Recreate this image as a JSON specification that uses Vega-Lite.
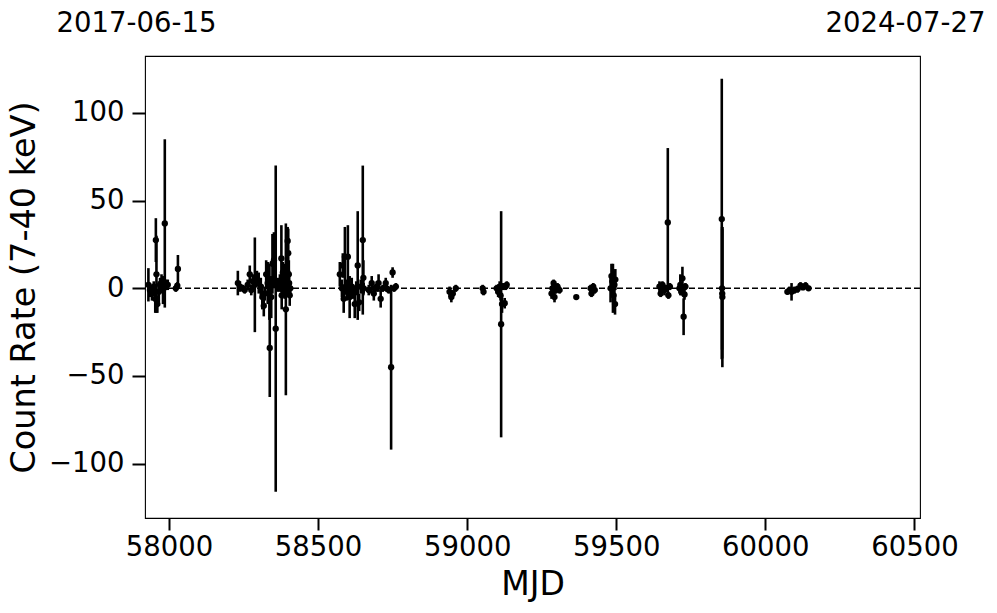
{
  "$schema": "https://vega.github.io/schema/vega-lite/v6.json",
  "autosize": "none",
  "width": 775,
  "height": 462,
  "padding": {"left": 145, "top": 56, "right": 77, "bottom": 95},
  "background": "white",
  "config": {
    "font": "DejaVu Sans",
    "view": {"stroke": "black", "strokeWidth": 1.1},
    "axis": {"labelColor": "black", "titleColor": "black", "tickColor": "black", "domainColor": "black", "grid": false, "labelFont": "DejaVu Sans", "titleFont": "DejaVu Sans", "titleFontWeight": "normal"}
  },
  "datasets": {
    "obs": [
      {"mjd": 57931, "rate": 2, "err": 9.5},
      {"mjd": 57936, "rate": -1, "err": 4},
      {"mjd": 57943, "rate": -3, "err": 4},
      {"mjd": 57949, "rate": 1, "err": 3},
      {"mjd": 57954, "rate": -6, "err": 8},
      {"mjd": 57956, "rate": 27.5, "err": 12.5},
      {"mjd": 57958, "rate": 8, "err": 22},
      {"mjd": 57961, "rate": -9, "err": 5},
      {"mjd": 57966, "rate": -2, "err": 6},
      {"mjd": 57970, "rate": 2, "err": 4},
      {"mjd": 57975, "rate": 3, "err": 5},
      {"mjd": 57980, "rate": -1, "err": 8},
      {"mjd": 57986, "rate": 37, "err": 48},
      {"mjd": 57990, "rate": 2, "err": 3},
      {"mjd": 57996, "rate": 2, "err": 3},
      {"mjd": 58023, "rate": 0, "err": 2},
      {"mjd": 58028, "rate": 1.5, "err": 2},
      {"mjd": 58030, "rate": 11, "err": 8},
      {"mjd": 58231, "rate": 3, "err": 7},
      {"mjd": 58238, "rate": 1, "err": 3},
      {"mjd": 58248, "rate": 0, "err": 2},
      {"mjd": 58254, "rate": -1, "err": 2},
      {"mjd": 58264, "rate": 2, "err": 3},
      {"mjd": 58271, "rate": 8, "err": 5},
      {"mjd": 58276, "rate": -1, "err": 3},
      {"mjd": 58281, "rate": 4, "err": 4},
      {"mjd": 58288, "rate": 2, "err": 27},
      {"mjd": 58295, "rate": 6, "err": 4},
      {"mjd": 58301, "rate": 3, "err": 6},
      {"mjd": 58308, "rate": 1, "err": 5},
      {"mjd": 58313, "rate": -5, "err": 7},
      {"mjd": 58318, "rate": -10, "err": 6},
      {"mjd": 58321, "rate": -3, "err": 4},
      {"mjd": 58326, "rate": 8, "err": 8},
      {"mjd": 58331, "rate": 3, "err": 12},
      {"mjd": 58337, "rate": -2, "err": 16},
      {"mjd": 58338, "rate": -34, "err": 28},
      {"mjd": 58343, "rate": -5, "err": 12},
      {"mjd": 58347, "rate": 14, "err": 17},
      {"mjd": 58352, "rate": 16, "err": 16},
      {"mjd": 58358, "rate": -23, "err": 93},
      {"mjd": 58365, "rate": 2, "err": 4},
      {"mjd": 58372, "rate": 3, "err": 5},
      {"mjd": 58377, "rate": 17, "err": 19},
      {"mjd": 58378, "rate": -4, "err": 8},
      {"mjd": 58382, "rate": 9, "err": 6},
      {"mjd": 58385, "rate": 2, "err": 6},
      {"mjd": 58388, "rate": 4, "err": 10},
      {"mjd": 58392, "rate": -12, "err": 49},
      {"mjd": 58395, "rate": 1, "err": 6},
      {"mjd": 58398, "rate": 27, "err": 8},
      {"mjd": 58400, "rate": 20, "err": 14},
      {"mjd": 58402, "rate": 8, "err": 8},
      {"mjd": 58403, "rate": 3, "err": 7},
      {"mjd": 58405, "rate": -4, "err": 6},
      {"mjd": 58407, "rate": 0, "err": 4},
      {"mjd": 58573, "rate": 8, "err": 7},
      {"mjd": 58580, "rate": 0, "err": 5},
      {"mjd": 58583, "rate": 13, "err": 7},
      {"mjd": 58586, "rate": -6, "err": 8},
      {"mjd": 58590, "rate": 18, "err": 17},
      {"mjd": 58593, "rate": 1, "err": 4},
      {"mjd": 58596, "rate": -2, "err": 5},
      {"mjd": 58600, "rate": 18, "err": 18},
      {"mjd": 58603, "rate": 0, "err": 4},
      {"mjd": 58606, "rate": -5, "err": 12},
      {"mjd": 58613, "rate": 1, "err": 5},
      {"mjd": 58618, "rate": -2, "err": 4},
      {"mjd": 58623, "rate": -9, "err": 8},
      {"mjd": 58628, "rate": 0, "err": 4},
      {"mjd": 58633, "rate": 13, "err": 31},
      {"mjd": 58638, "rate": -8, "err": 5},
      {"mjd": 58643, "rate": 1, "err": 4},
      {"mjd": 58650, "rate": 27.5, "err": 42.5},
      {"mjd": 58652, "rate": 6, "err": 10},
      {"mjd": 58653, "rate": 0, "err": 3},
      {"mjd": 58670, "rate": -1, "err": 3},
      {"mjd": 58673, "rate": -1, "err": 2},
      {"mjd": 58680, "rate": 3, "err": 4},
      {"mjd": 58687, "rate": -3, "err": 4},
      {"mjd": 58690, "rate": 0, "err": 2},
      {"mjd": 58697, "rate": 1, "err": 3},
      {"mjd": 58703, "rate": 3, "err": 5},
      {"mjd": 58710, "rate": -6, "err": 5},
      {"mjd": 58717, "rate": 0, "err": 2},
      {"mjd": 58727, "rate": 3, "err": 3},
      {"mjd": 58730, "rate": 0, "err": 2},
      {"mjd": 58737, "rate": -1, "err": 2},
      {"mjd": 58745, "rate": -45, "err": 47},
      {"mjd": 58750, "rate": 9, "err": 3},
      {"mjd": 58755, "rate": 0, "err": 2},
      {"mjd": 58761, "rate": 1, "err": 2},
      {"mjd": 58941, "rate": -2, "err": 3},
      {"mjd": 58947, "rate": -5, "err": 3},
      {"mjd": 58952, "rate": -3, "err": 2},
      {"mjd": 58962, "rate": 0, "err": 2},
      {"mjd": 59052, "rate": 0, "err": 2},
      {"mjd": 59055, "rate": -2, "err": 2},
      {"mjd": 59099, "rate": 0, "err": 2},
      {"mjd": 59104, "rate": -2, "err": 3},
      {"mjd": 59109, "rate": 1, "err": 3},
      {"mjd": 59112, "rate": -4, "err": 3},
      {"mjd": 59114, "rate": -20.5, "err": 64.5},
      {"mjd": 59117, "rate": -9, "err": 5},
      {"mjd": 59121, "rate": 1, "err": 2},
      {"mjd": 59126, "rate": -8.5, "err": 3},
      {"mjd": 59129, "rate": 1, "err": 2},
      {"mjd": 59133, "rate": 2, "err": 2},
      {"mjd": 59283, "rate": -3, "err": 3},
      {"mjd": 59286, "rate": 0, "err": 2},
      {"mjd": 59290, "rate": 3, "err": 2},
      {"mjd": 59293, "rate": -5, "err": 3},
      {"mjd": 59298, "rate": -1, "err": 2},
      {"mjd": 59303, "rate": 1, "err": 2},
      {"mjd": 59310, "rate": -1, "err": 2},
      {"mjd": 59366, "rate": -5, "err": 1},
      {"mjd": 59414, "rate": 0, "err": 2},
      {"mjd": 59417, "rate": -3, "err": 2},
      {"mjd": 59423, "rate": 1, "err": 2},
      {"mjd": 59428, "rate": -1, "err": 2},
      {"mjd": 59481, "rate": 0, "err": 8},
      {"mjd": 59484, "rate": 7, "err": 7},
      {"mjd": 59487, "rate": 4, "err": 9},
      {"mjd": 59489, "rate": 0, "err": 14},
      {"mjd": 59491, "rate": -4, "err": 5},
      {"mjd": 59494, "rate": 2, "err": 8},
      {"mjd": 59496, "rate": -9, "err": 6},
      {"mjd": 59497, "rate": 5, "err": 6},
      {"mjd": 59645, "rate": 1, "err": 3},
      {"mjd": 59649, "rate": -3, "err": 2},
      {"mjd": 59652, "rate": 0, "err": 2},
      {"mjd": 59655, "rate": 2, "err": 2},
      {"mjd": 59662, "rate": -1, "err": 3},
      {"mjd": 59667, "rate": 0, "err": 2},
      {"mjd": 59673, "rate": 37.6, "err": 42.4},
      {"mjd": 59675, "rate": -4, "err": 2},
      {"mjd": 59680, "rate": 1, "err": 2},
      {"mjd": 59712, "rate": 0, "err": 3},
      {"mjd": 59715, "rate": 2, "err": 6},
      {"mjd": 59719, "rate": -1, "err": 3},
      {"mjd": 59722, "rate": 5.7, "err": 6.6},
      {"mjd": 59726, "rate": -16.2, "err": 10.5},
      {"mjd": 59729, "rate": -3.5, "err": 3},
      {"mjd": 59732, "rate": 1, "err": 2},
      {"mjd": 59854, "rate": 39.5, "err": 80},
      {"mjd": 59855, "rate": 0, "err": 35},
      {"mjd": 59855.5, "rate": -3, "err": 37},
      {"mjd": 59856, "rate": -5, "err": 40},
      {"mjd": 60074, "rate": -2, "err": 1.5},
      {"mjd": 60081, "rate": -1, "err": 2},
      {"mjd": 60088, "rate": -2, "err": 5},
      {"mjd": 60098, "rate": -1, "err": 2},
      {"mjd": 60108, "rate": -0.5, "err": 2},
      {"mjd": 60118, "rate": 1.5, "err": 2},
      {"mjd": 60126, "rate": 0.5, "err": 1.5},
      {"mjd": 60135, "rate": 1.5, "err": 2},
      {"mjd": 60145, "rate": 0, "err": 1.5}
    ]
  },
  "resolve": {"axis": {"x": "independent"}},
  "layer": [
    {
      "data": {"values": [{"ref": 0}]},
      "mark": {"type": "rule", "color": "black", "strokeWidth": 1.6, "strokeDash": [6, 3]},
      "encoding": {"y": {"field": "ref", "type": "quantitative"}}
    },
    {
      "data": {"name": "obs"},
      "mark": {"type": "errorbar", "color": "black", "thickness": 2.6},
      "encoding": {
        "x": {
          "field": "mjd", "type": "quantitative",
          "scale": {"domain": [57919.6, 60518.8], "nice": false, "zero": false},
          "axis": {
            "orient": "bottom", "values": [58000, 58500, 59000, 59500, 60000, 60500], "format": "d",
            "title": "MJD", "titleFontSize": 33, "titlePadding": 8,
            "labelFontSize": 27.5, "labelPadding": 3, "labelFlush": false, "labelOverlap": false,
            "tickSize": 12, "tickWidth": 2, "domain": false
          }
        },
        "y": {
          "field": "rate", "type": "quantitative",
          "scale": {"domain": [-131, 132.5], "nice": false, "zero": false},
          "axis": {
            "values": [-100, -50, 0, 50, 100],
            "labelExpr": "replace(format(datum.value, 'd'), '-', '\u2212')",
            "title": "Count Rate (7-40 keV)", "titleFontSize": 33.5, "titlePadding": 7,
            "labelFontSize": 27.5, "labelPadding": 8, "tickSize": 13, "tickWidth": 2, "domain": false
          }
        },
        "yError": {"field": "err"}
      }
    },
    {
      "data": {"name": "obs"},
      "mark": {"type": "circle", "color": "black", "opacity": 1, "size": 40},
      "encoding": {
        "x": {
          "field": "mjd", "type": "quantitative",
          "axis": {
            "orient": "top", "values": [57919.6, 60518.8],
            "labelExpr": "datum.value < 59000 ? '2017-06-15' : '2024-07-27'",
            "title": null, "ticks": false, "domain": false, "labelFlush": false, "labelOverlap": false,
            "labelFontSize": 27.5, "labelPadding": 19,
            "labelOffset": {"condition": {"test": "datum.value < 59000", "value": -9}, "value": -15}
          }
        },
        "y": {"field": "rate", "type": "quantitative"}
      }
    }
  ]
}
